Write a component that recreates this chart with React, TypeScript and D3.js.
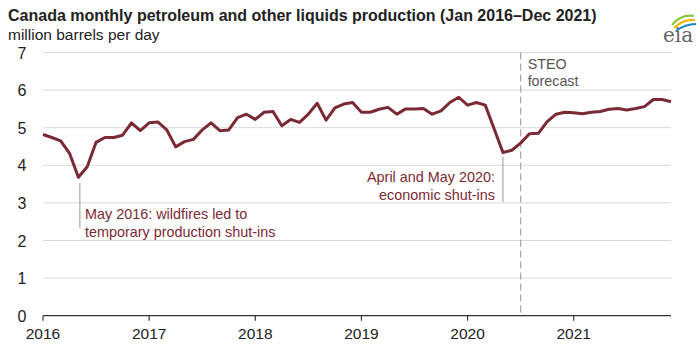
import React from "react";
import * as d3 from "d3";

const years = [2016, 2017, 2018, 2019, 2020, 2021];
const yTicks = [0, 1, 2, 3, 4, 5, 6, 7];
const production = [
  4.82, 4.74, 4.65, 4.32, 3.68, 3.96, 4.61, 4.74, 4.74, 4.8, 5.13, 4.92,
  5.13, 5.15, 4.94, 4.49, 4.63, 4.69, 4.94, 5.13, 4.92, 4.94, 5.27, 5.36,
  5.22, 5.41, 5.43, 5.05, 5.22, 5.14, 5.36, 5.65, 5.2, 5.53, 5.63, 5.67,
  5.41, 5.41, 5.49, 5.54, 5.36, 5.5, 5.5, 5.51, 5.36, 5.45, 5.67, 5.81,
  5.6, 5.67, 5.6, 4.97, 4.34, 4.4, 4.59, 4.84, 4.85, 5.16, 5.36, 5.41,
  5.4, 5.37, 5.41, 5.43, 5.49, 5.51, 5.47, 5.51, 5.56, 5.75, 5.75, 5.69,
];
const startYear = 2016;
const forecastStart = { year: 2020, month: 6 }; // July 2020 (0-based month)
const wildfireMonth = { year: 2016, month: 4 };
const shutinMonth = { year: 2020, month: 4 };

const title = "Canada monthly petroleum and other liquids production (Jan 2016\u2013Dec 2021)";
const subtitle = "million barrels per day";

export default function App() {
  const W = 700, H = 356;
  const left = 43, right = 671, top = 52.5, bottom = 315.7;
  const monthIdx = (y: number, m: number) => (y - startYear) * 12 + m;
  const x = d3.scaleLinear().domain([0, production.length - 1]).range([left, right]);
  const y = d3.scaleLinear().domain([0, 7]).range([bottom, top]);
  const line = d3
    .line<number>()
    .x((_, i) => x(i))
    .y((d) => y(d));
  const font = "'Liberation Sans', Arial, sans-serif";
  const maroon = "#7b2a35";
  const xF = x(monthIdx(forecastStart.year, forecastStart.month));
  const xW = x(monthIdx(wildfireMonth.year, wildfireMonth.month));
  const xS = x(monthIdx(shutinMonth.year, shutinMonth.month));

  return (
    <svg
      width={W}
      height={H}
      style={{ position: "absolute", left: 0, top: 0, background: "#fff" }}
      fontFamily={font}
    >
      <text x={8} y={21} fontSize={16} fontWeight="bold" fill="#222">
        {title}
      </text>
      <text x={8} y={40} fontSize={15.5} fill="#222">
        {subtitle}
      </text>
      {/* eia logo */}
      <g>
        <path d="M672 25 Q681 14 694 16" stroke="#8dc63f" strokeWidth={2.2} fill="none" />
        <path d="M674 28 Q683 19 695 20" stroke="#f2b705" strokeWidth={2.2} fill="none" />
        <path d="M676 31 Q685 24 696 24" stroke="#1e88c8" strokeWidth={2.2} fill="none" />
        <text x={678} y={42} fontSize={20} fontFamily="'DejaVu Serif', 'Liberation Serif', serif" fill="#666" textAnchor="middle">
          eia
        </text>
      </g>
      {/* gridlines */}
      {yTicks.map((t) => (
        <g key={t}>
          {t > 0 && (
            <line x1={left} x2={right} y1={y(t)} y2={y(t)} stroke="#d9d9d9" strokeWidth={1} />
          )}
          <text x={22} y={y(t) + 6} fontSize={16} textAnchor="middle" fill="#222">
            {t}
          </text>
        </g>
      ))}
      {/* forecast divider */}
      <line x1={xF} x2={xF} y1={top} y2={bottom} stroke="#a6a6a6" strokeWidth={1.2} strokeDasharray="7,4" />
      <text x={xF + 7} y={69} fontSize={14.3} fill="#555">STEO</text>
      <text x={xF + 7} y={86} fontSize={14.3} fill="#555">forecast</text>
      {/* x axis */}
      <line x1={left} x2={right} y1={bottom} y2={bottom} stroke="#333" strokeWidth={1.3} />
      {years.map((yr) => {
        const xx = x(monthIdx(yr, 0));
        return (
          <g key={yr}>
            <line x1={xx} x2={xx} y1={bottom} y2={bottom + 5} stroke="#333" strokeWidth={1.2} />
            <text x={xx} y={339} fontSize={15.5} textAnchor="middle" fill="#222">
              {yr}
            </text>
          </g>
        );
      })}
      {/* annotations */}
      <line x1={xW + 1.5} x2={xW + 1.5} y1={183} y2={228} stroke="#999" strokeWidth={1} />
      <text x={85} y={219} fontSize={14.4} fill={maroon}>May 2016: wildfires led to</text>
      <text x={85} y={236.5} fontSize={14.4} fill={maroon}>temporary production shut-ins</text>
      <line x1={xS} x2={xS} y1={157} y2={202} stroke="#999" strokeWidth={1} />
      <text x={495} y={182} fontSize={14.4} fill={maroon} textAnchor="end">April and May 2020:</text>
      <text x={495} y={199.5} fontSize={14.4} fill={maroon} textAnchor="end">economic shut-ins</text>
      {/* data line */}
      <path d={line(production) || ""} fill="none" stroke={maroon} strokeWidth={3} strokeLinejoin="round" />
    </svg>
  );
}
